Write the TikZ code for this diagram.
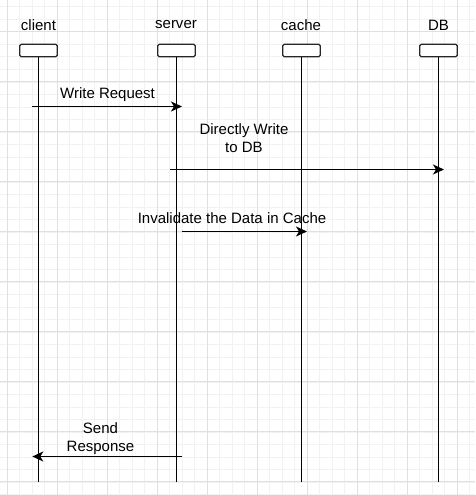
\documentclass[tikz,border=0pt]{standalone}
\usepackage{fontspec}
\setmainfont{Liberation Sans}
\usetikzlibrary{arrows.meta}

\definecolor{minorgray}{HTML}{F2F2F2}
\definecolor{majorgray}{HTML}{E0E0E0}

\begin{document}
\begin{tikzpicture}[
      x=1pt, y=-1pt,
      minorgrid/.style={minorgray, line width=1pt},
      majorgrid/.style={majorgray, line width=1pt},
      head/.style={rectangle, draw=black!85, rounded corners=1.5pt, line width=1.2pt, minimum width=37.5pt, minimum height=12.5pt, inner sep=0pt, fill=white},
      role/.style={font=\fontsize{15}{18}\selectfont, inner sep=0pt},
      lifeline/.style={black, line width=1.5pt},
      msg/.style={black, line width=1.5pt, -{Stealth[length=11pt, width=10pt, inset=3pt]}},
      label/.style={font=\fontsize{15}{18}\selectfont, align=center, inner sep=0pt}
    ]

    % Fix page size
    \useasboundingbox (0,0) rectangle (475,495);
    \fill[white] (0,0) rectangle (475,495);

    % Draw grid
    \begin{scope}
    \clip (0,0) rectangle (475,495);
    \foreach \i in {0,...,38} \draw[minorgrid] ({-5.5+12.5*\i},0) -- ++(0,495);
    \foreach \j in {0,...,40} \draw[minorgrid] (0,{-5.5+12.5*\j}) -- ++(475,0);
    \foreach \i in {0,...,9} \draw[majorgrid] ({7.5+50*\i},0) -- ++(0,495);
    \foreach \j in {-1,...,9} \draw[majorgrid] (0,{31.5+50*\j}) -- ++(475,0);
    \end{scope}

    % Lifeline heads
    \node[head] (client) at (38.5, 50.5) {};
    \node[head] (server) at (176.5, 50.5) {};
    \node[head] (cache) at (301.5, 50.5) {};
    \node[head] (db) at (438.5, 50.5) {};

    \node[role] (clientname) at (38.5, 25) {client};
    \node[role] (servername) at (176, 25) {server};
    \node[role] (cachename) at (301, 25) {cache};
    \node[role] (dbname) at (438.5, 25) {DB};

    % Lifelines
    \coordinate (clientend) at (38.5, 481.5);
    \coordinate (serverend) at (176.5, 481.5);
    \coordinate (cacheend) at (301.5, 481.5);
    \coordinate (dbend) at (438.5, 481.5);
    \draw[lifeline] (client) -- (clientend);
    \draw[lifeline] (server) -- (serverend);
    \draw[lifeline] (cache) -- (cacheend);
    \draw[lifeline] (db) -- (dbend);

    % Messages
    \coordinate (reqstart) at (32.3, 106.5);
    \coordinate (reqend) at (182, 106.5);
    \draw[msg] (reqstart) -- (reqend);
    \node[label] (reqlabel) at (107.5, 94.5) {Write Request};

    \coordinate (dbstart) at (170, 169.5);
    \coordinate (dbstop) at (444, 169.5);
    \draw[msg] (dbstart) -- (dbstop);
    \node[label] (dblabel) at (244, 138.5) {Directly Write\\to DB};

    \coordinate (invstart) at (182.3, 231.5);
    \coordinate (invend) at (307, 231.5);
    \draw[msg] (invstart) -- (invend);
    \node[label] (invlabel) at (232, 218.5) {Invalidate the Data in Cache};

    \coordinate (respstart) at (182, 456.5);
    \coordinate (respend) at (32.3, 456.5);
    \draw[msg] (respstart) -- (respend);
    \node[label] (resplabel) at (100.5, 438.5) {Send\\Response};

  \end{tikzpicture}
\end{document}
